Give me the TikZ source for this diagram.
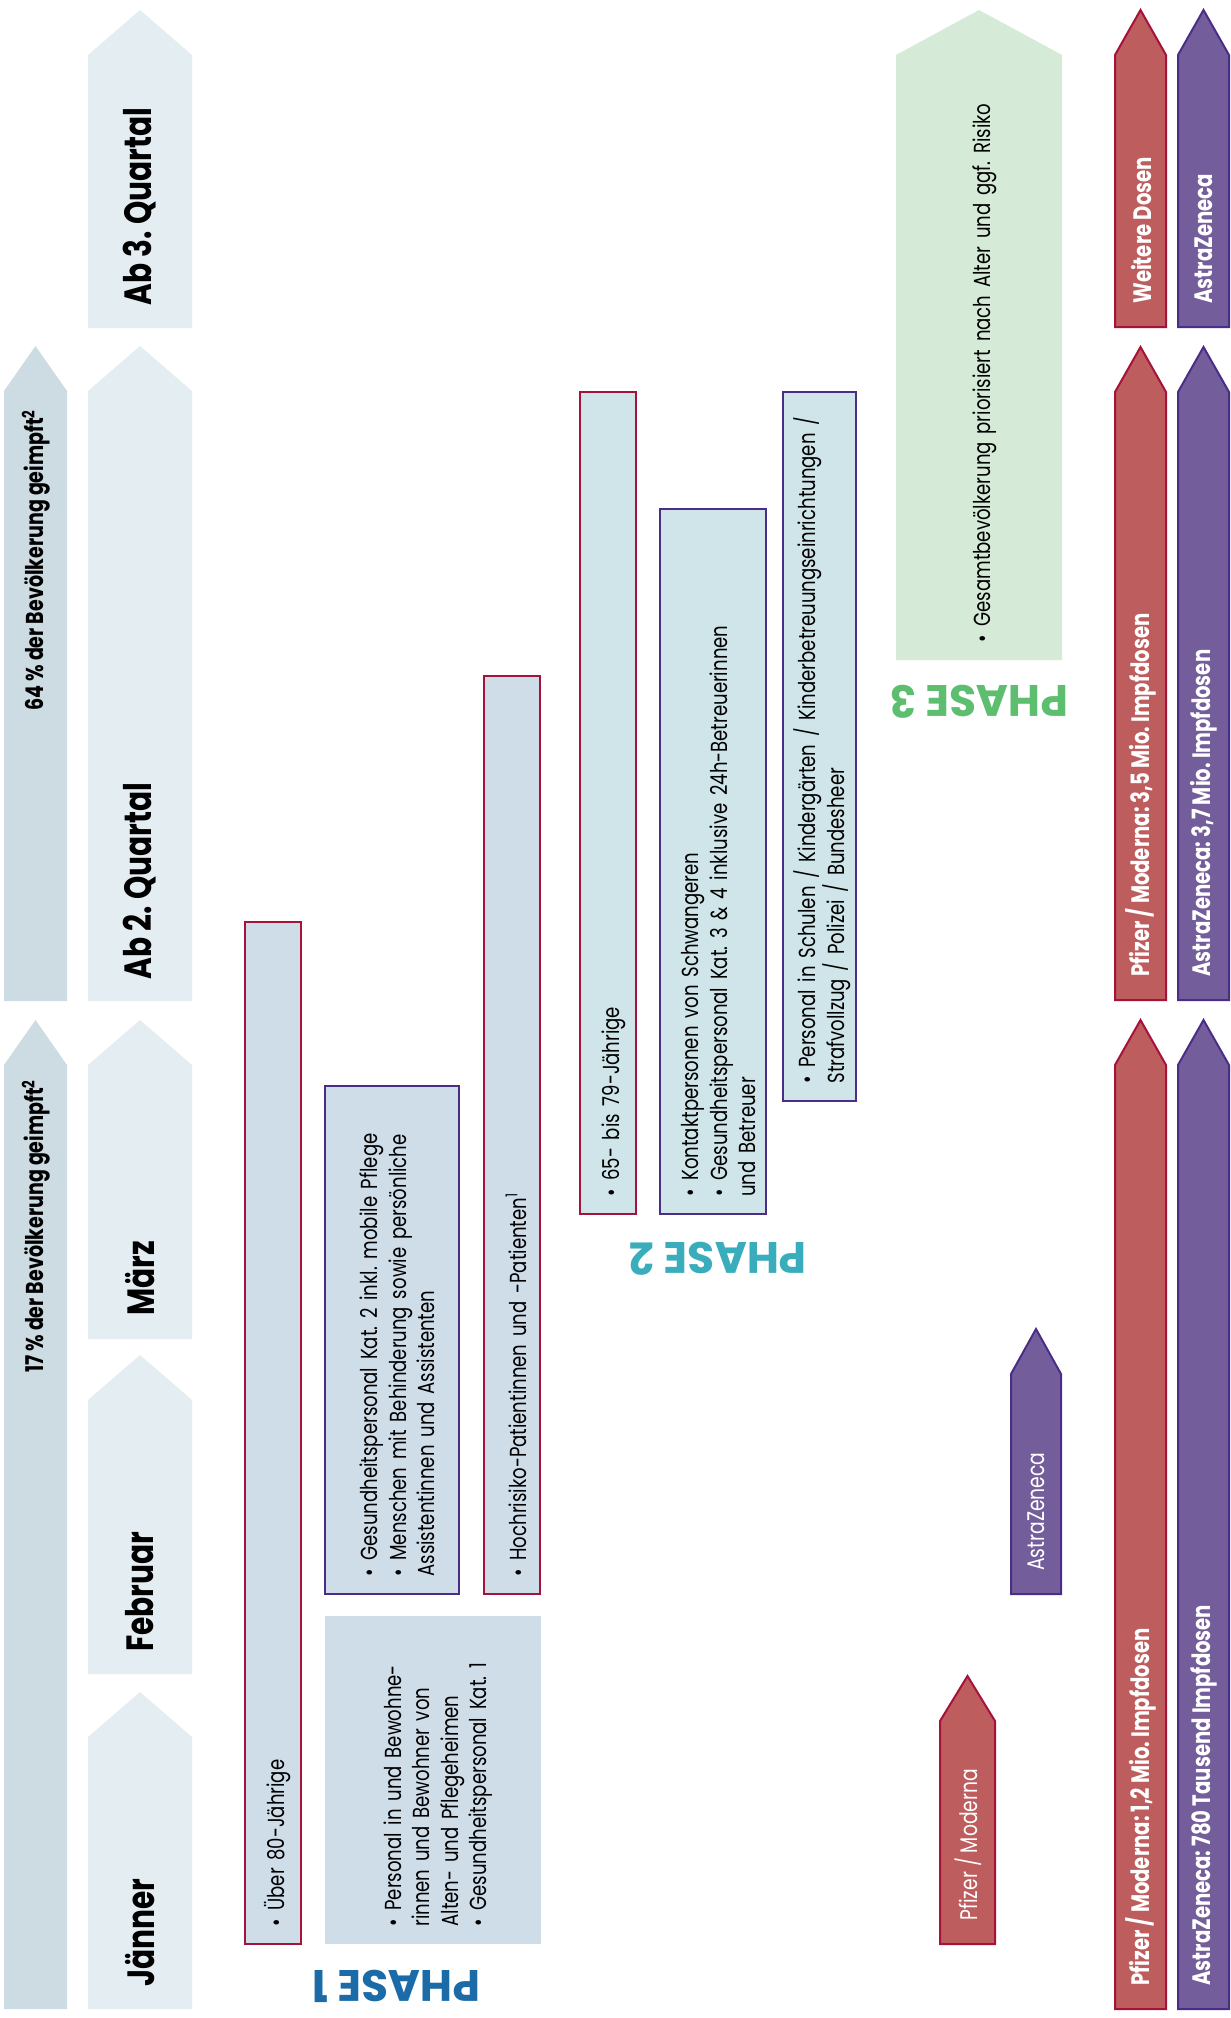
\documentclass[tikz,border=0pt]{standalone}
\usepackage{fontspec}
\setmainfont{Poppins}[FakeStretch=0.78]
\newfontfamily\phasefont{Poppins}[FakeStretch=1.0]
\usepackage{tikz}
\frenchspacing

\definecolor{anteilgrau}{HTML}{CDDBE2}
\definecolor{monatblau}{HTML}{E3EDF2}
\definecolor{phaseeins}{HTML}{CFDDE9}
\definecolor{phasezwei}{HTML}{CFE5E9}
\definecolor{phasedrei}{HTML}{D5EAD7}
\definecolor{rotrand}{HTML}{A5123A}
\definecolor{rotfill}{HTML}{BD5D5D}
\definecolor{lilarand}{HTML}{4A2E86}
\definecolor{lilafill}{HTML}{735E9B}
\definecolor{titeleins}{HTML}{1A6BA8}
\definecolor{titelzwei}{HTML}{3AADBC}
\definecolor{titeldrei}{HTML}{5CBE6E}

% [style]{links}{rechts}{spitze}{unten}
\newcommand{\pfeil}[5][]{\path[#1] (#2,#5) -- (#2,#4+45) -- ({(#2+#3)/2},#4) -- (#3,#4+45) -- (#3,#5) -- cycle;}
\newcommand{\pkt}[1]{\par\noindent\hangindent=8pt\hangafter=1\makebox[8pt][l]{\textbullet}#1\par}

\begin{document}
\begin{tikzpicture}[x=0.5pt, y=-0.5pt,
  monat/.style={rotate=90, anchor=west, inner sep=0pt, font=\fontsize{19}{22}\selectfont\bfseries},
  anteil/.style={rotate=90, anchor=east, inner sep=0pt, font=\fontsize{12.2}{14}\selectfont\bfseries},
  liste/.style={rotate=90, anchor=west, inner sep=0pt, text width=14cm, align=left, font=\fontsize{11.6}{14.2}\selectfont},
  impf/.style={rotate=90, anchor=west, inner sep=0pt, text=white, font=\fontsize{12}{14}\selectfont},
  dosen/.style={impf, font=\fontsize{12.6}{14}\selectfont\bfseries},
  phase/.style={rotate=180, inner sep=0pt, font=\phasefont\fontsize{22}{24}\selectfont\bfseries},
  rot/.style={fill=rotfill, draw=rotrand, line width=1pt},
  lila/.style={fill=lilafill, draw=lilarand, line width=1pt}]
\useasboundingbox (0,0) rectangle (1231,2018);

\pfeil[fill=anteilgrau]{4}{67}{346}{1001}
\pfeil[fill=anteilgrau]{4}{67}{1020}{2009}
\node[anteil] (anteil64) at (36,409) {64\,\% der Bevölkerung geimpft\textsuperscript{2}};
\node[anteil] (anteil17) at (36,1079) {17\,\% der Bevölkerung geimpft\textsuperscript{2}};

\pfeil[fill=monatblau]{88}{192}{1692}{2009}
\pfeil[fill=monatblau]{88}{192}{1355}{1674}
\pfeil[fill=monatblau]{88}{192}{1020}{1339}
\pfeil[fill=monatblau]{88}{192}{346}{1001}
\pfeil[fill=monatblau]{88}{192}{10}{328}
\node[monat] (jaenner) at (140,1987) {Jänner};
\node[monat] (februar) at (140,1652) {Februar};
\node[monat] (maerz) at (140,1316) {März};
\node[monat] (quartal2) at (140,980) {Ab 2. Quartal};
\node[monat] (quartal3) at (140,306) {Ab 3. Quartal};

\filldraw[fill=phaseeins, draw=rotrand, line width=1.2pt] (245,922) rectangle (301,1944);
\filldraw[fill=phaseeins, draw=lilarand, line width=1.2pt] (325,1086) rectangle (459,1594);
\filldraw[fill=phaseeins, draw=rotrand, line width=1.2pt] (484,676) rectangle (540,1594);
\fill[phaseeins] (325,1616) rectangle (541,1944);
\node[liste] (ueber80) at (273,1927) {\pkt{Über 80-Jährige}};
\node[liste] (gesund2) at (392,1577) {\pkt{Gesundheitspersonal Kat. 2 inkl. mobile Pflege}
  \pkt{Menschen mit Behinderung sowie persönliche\\Assistentinnen und Assistenten}};
\node[liste] (hochrisiko) at (512,1577) {\pkt{Hochrisiko-Patientinnen und -Patienten\textsuperscript{1}}};
\node[liste] (heime) at (433,1927) {\pkt{Personal in und Bewohne-\\rinnen und Bewohner von\\Alten- und Pflegeheimen}
  \pkt{Gesundheitspersonal Kat. 1}};
\node[phase, text=titeleins] (phase1) at (396,1986) {PHASE 1};

\filldraw[fill=phasezwei, draw=rotrand, line width=1.2pt] (580,392) rectangle (636,1214);
\filldraw[fill=phasezwei, draw=lilarand, line width=1.2pt] (660,509) rectangle (766,1214);
\filldraw[fill=phasezwei, draw=lilarand, line width=1.2pt] (783,392) rectangle (856,1101);
\node[liste] (alter65) at (608,1197) {\pkt{65- bis 79-Jährige}};
\node[liste] (kontakt) at (713,1197) {\pkt{Kontaktpersonen von Schwangeren}
  \pkt{Gesundheitspersonal Kat. 3 \& 4 inklusive 24h-Betreuerinnen\\und Betreuer}};
\node[liste] (schulen) at (819,1084) {\pkt{Personal in Schulen / Kindergärten / Kinderbetreuungseinrichtungen /\\Strafvollzug / Polizei / Bundesheer}};
\node[phase, text=titelzwei] (phase2) at (718,1259) {PHASE 2};

\pfeil[fill=phasedrei]{896}{1062}{10}{660}
\node[liste] (gesamt) at (979,643) {\pkt{Gesamtbevölkerung priorisiert nach Alter und ggf. Risiko}};
\node[phase, text=titeldrei] (phase3) at (979,702) {PHASE 3};

\pfeil[rot]{940}{995}{1676}{1944}
\pfeil[lila]{1011}{1061}{1329}{1594}
\pfeil[rot]{1115}{1166}{1020}{2009}
\pfeil[lila]{1178}{1229}{1020}{2009}
\pfeil[rot]{1115}{1166}{347}{1000}
\pfeil[lila]{1178}{1229}{347}{1000}
\pfeil[rot]{1115}{1166}{10}{327}
\pfeil[lila]{1178}{1229}{10}{327}
\node[impf] (pfizerklein) at (968,1921) {Pfizer / Moderna};
\node[impf] (astraklein) at (1036,1571) {AstraZeneca};
\node[dosen] (pfizer1) at (1141,1986) {Pfizer / Moderna: 1,2 Mio. Impfdosen};
\node[dosen] (astra1) at (1204,1986) {AstraZeneca: 780 Tausend Impfdosen};
\node[dosen] (pfizer2) at (1141,977) {Pfizer / Moderna: 3,5 Mio. Impfdosen};
\node[dosen] (astra2) at (1204,977) {AstraZeneca: 3,7 Mio. Impfdosen};
\node[dosen] (weitere) at (1141,304) {Weitere Dosen};
\node[dosen] (astra3) at (1204,304) {AstraZeneca};
\end{tikzpicture}
\end{document}
